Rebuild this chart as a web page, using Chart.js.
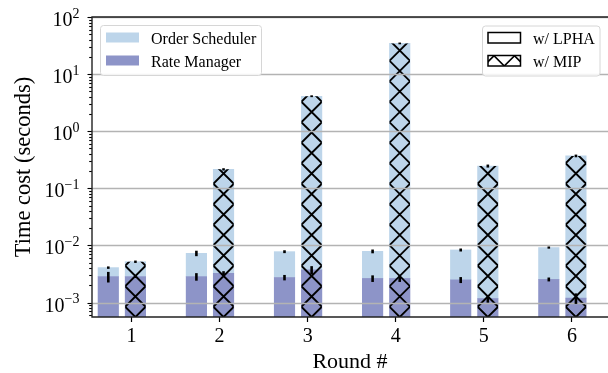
<!DOCTYPE html>
<html>
<head>
<meta charset="utf-8">
<script src="https://cdn.jsdelivr.net/npm/chart.js@4.4.1/dist/chart.umd.min.js"></script>
<style>
  html, body { margin: 0; padding: 0; background: #fff; overflow: hidden; width: 608px; height: 373px; }
  canvas { display: block; }
</style>
</head>
<body>
<canvas id="chart" width="608" height="373"></canvas>
<script>
// ---- data (seconds) ----
const rounds = [1, 2, 3, 4, 5, 6];

const rateMgrLpha    = [2.85e-3, 2.85e-3, 2.75e-3, 2.65e-3, 2.50e-3, 2.55e-3];
const orderSchedLpha = [1.25e-3, 4.45e-3, 5.05e-3, 5.25e-3, 5.85e-3, 6.65e-3];
const rateMgrMip     = [2.85e-3, 3.25e-3, 3.75e-3, 2.65e-3, 1.18e-3, 1.20e-3];
const orderSchedMip  = [2.35e-3, 0.212, 4.10, 34.5, 0.245, 0.369];

// standard deviations, drawn at the top of each segment
const rateMgrLphaErr = [0.6e-3, 0.43e-3, 0.3e-3, 0.35e-3, 0.3e-3, 0.2e-3];
const totalLphaErr   = [0.2e-3, 0.8e-3, 0.45e-3, 0.6e-3, 0.5e-3, 0.4e-3];
const rateMgrMipErr  = [0.15e-3, 0.3e-3, 0.6e-3, 0.35e-3, 0.18e-3, 0.25e-3];
const totalMipErr    = [0.25e-3, 0.01, 0.15, 1.2, 0.015, 0.02];

const yTickExponents = [-3, -2, -1, 0, 1, 2];
const componentNames = ['Order Scheduler', 'Rate Manager'];
const methodNames = ['w/ LPHA', 'w/ MIP'];

// ---- style / layout ----
const SERIF = '"Liberation Serif", "DejaVu Serif", serif';
const OS_COLOR = '#bdd5ea';
const RM_COLOR = '#8d94c8';
const GRID_COLOR = '#b3b3b3';
const Y_MIN = 5.6e-4, Y_MAX = 100;
const X_MIN = 0.552, X_MAX = 6.409;
const LPHA_SHIFT = -0.263, MIP_SHIFT = 0.045;
const BAR_PX = 20.5;
const HATCH_PERIOD = 20.5;

const sum = (a, b) => a.map((v, i) => v + b[i]);
const totalLpha = sum(rateMgrLpha, orderSchedLpha);
const totalMip = sum(rateMgrMip, orderSchedMip);

function segment(shift, lo, hi) {
  return rounds.map((r, i) => ({ x: r + shift, y: [lo ? lo[i] : Y_MIN, hi[i]] }));
}

const common = { grouped: false, barThickness: BAR_PX, borderWidth: 0 };
const datasets = [
  { ...common, label: componentNames[1], data: segment(LPHA_SHIFT, null, rateMgrLpha), backgroundColor: RM_COLOR, err: rateMgrLphaErr, top: rateMgrLpha },
  { ...common, label: componentNames[0], data: segment(LPHA_SHIFT, rateMgrLpha, totalLpha), backgroundColor: OS_COLOR, err: totalLphaErr, top: totalLpha },
  { ...common, label: componentNames[1], data: segment(MIP_SHIFT, null, rateMgrMip), backgroundColor: RM_COLOR, err: rateMgrMipErr, top: rateMgrMip },
  { ...common, label: componentNames[0], data: segment(MIP_SHIFT, rateMgrMip, totalMip), backgroundColor: OS_COLOR, err: totalMipErr, top: totalMip, hatched: true }
];

// diagonal cross hatch inside a rectangle, crossings on column cx and rows oy + k*p
function drawHatch(ctx, l, t, r, b, cx, oy, p, lw) {
  ctx.save();
  ctx.beginPath();
  ctx.rect(l, t, r - l, b - t);
  ctx.clip();
  ctx.beginPath();
  const w = (r - l) + p;
  const kMin = Math.floor((t - oy - w) / p) - 1;
  const kMax = Math.ceil((b - oy + w) / p) + 1;
  for (let k = kMin; k <= kMax; k++) {
    const yc = oy + k * p;
    ctx.moveTo(cx - w, yc - w); ctx.lineTo(cx + w, yc + w);
    ctx.moveTo(cx - w, yc + w); ctx.lineTo(cx + w, yc - w);
  }
  ctx.strokeStyle = '#000';
  ctx.lineWidth = lw;
  ctx.stroke();
  ctx.restore();
}

function roundRect(ctx, x, y, w, h, r) {
  ctx.beginPath();
  ctx.moveTo(x + r, y);
  ctx.lineTo(x + w - r, y); ctx.quadraticCurveTo(x + w, y, x + w, y + r);
  ctx.lineTo(x + w, y + h - r); ctx.quadraticCurveTo(x + w, y + h, x + w - r, y + h);
  ctx.lineTo(x + r, y + h); ctx.quadraticCurveTo(x, y + h, x, y + h - r);
  ctx.lineTo(x, y + r); ctx.quadraticCurveTo(x, y, x + r, y);
  ctx.closePath();
}

const overlay = {
  id: 'overlay',
  afterDatasetsDraw(chart) {
    const { ctx, chartArea: ca, scales: { y } } = chart;

    // hatch over the MIP stacks
    chart.data.datasets.forEach((ds, di) => {
      if (!ds.hatched) return;
      chart.getDatasetMeta(di).data.forEach(el => {
        const l = el.x - el.width / 2, r = el.x + el.width / 2;
        const t = Math.min(el.y, el.base);
        drawHatch(ctx, l, t, r, ca.bottom, el.x, ca.bottom, HATCH_PERIOD, 1.9);
      });
    });

    // horizontal grid at each decade
    ctx.save();
    ctx.strokeStyle = GRID_COLOR;
    ctx.lineWidth = 1.4;
    yTickExponents.forEach(e => {
      const py = Math.round(y.getPixelForValue(Math.pow(10, e))) + 0.5;
      ctx.beginPath(); ctx.moveTo(ca.left, py); ctx.lineTo(ca.right, py); ctx.stroke();
    });
    ctx.restore();

    // error bars
    ctx.save();
    ctx.strokeStyle = '#000';
    ctx.lineWidth = 2.6;
    ctx.lineCap = 'butt';
    chart.data.datasets.forEach((ds, di) => {
      chart.getDatasetMeta(di).data.forEach((el, i) => {
        const v = ds.top[i], e = ds.err[i];
        const y0 = y.getPixelForValue(v - e), y1 = y.getPixelForValue(v + e);
        ctx.beginPath(); ctx.moveTo(el.x, y0); ctx.lineTo(el.x, y1); ctx.stroke();
      });
    });
    ctx.restore();
  },
  afterDraw(chart) {
    const { ctx, chartArea: ca, scales: { y } } = chart;

    // y ticks (major + minor) and power-of-ten labels
    ctx.save();
    ctx.strokeStyle = '#000';
    ctx.lineWidth = 1.1;
    const eMin = Math.floor(Math.log10(Y_MIN)), eMax = Math.ceil(Math.log10(Y_MAX));
    for (let e = eMin; e <= eMax; e++) {
      for (let m = 1; m <= 9; m++) {
        const v = m * Math.pow(10, e);
        if (v < Y_MIN * 0.999 || v > Y_MAX * 1.001) continue;
        const py = Math.round(y.getPixelForValue(v)) + 0.5;
        const len = m === 1 ? 4.5 : 2.8;
        ctx.beginPath(); ctx.moveTo(ca.left - len, py); ctx.lineTo(ca.left, py); ctx.stroke();
      }
    }
    ctx.fillStyle = '#000';
    ctx.textAlign = 'right';
    ctx.textBaseline = 'alphabetic';
    yTickExponents.forEach(e => {
      const py = y.getPixelForValue(Math.pow(10, e));
      const sup = (e < 0 ? '\u2212' : '') + Math.abs(e);
      const right = ca.left - 12.5;
      ctx.font = `14px ${SERIF}`;
      const wSup = ctx.measureText(sup).width;
      ctx.fillText(sup, right, py + 0.5);
      ctx.font = `20px ${SERIF}`;
      ctx.fillText('10', right - wSup, py + 9);
    });
    ctx.restore();

    // axes frame: left, bottom and top spines (right side runs past the canvas)
    ctx.save();
    ctx.strokeStyle = '#222';
    ctx.lineWidth = 1.4;
    ctx.beginPath();
    ctx.moveTo(ca.right + 2, ca.top); ctx.lineTo(ca.left, ca.top);
    ctx.lineTo(ca.left, ca.bottom); ctx.lineTo(ca.right + 2, ca.bottom);
    ctx.stroke();
    ctx.restore();

    // component legend (upper left)
    ctx.save();
    roundRect(ctx, 100.5, 25.5, 161, 50, 3);
    ctx.fillStyle = 'rgba(255,255,255,0.85)';
    ctx.fill();
    ctx.strokeStyle = '#d6d6d6';
    ctx.lineWidth = 1;
    ctx.stroke();
    ctx.font = `16px ${SERIF}`;
    ctx.fillStyle = '#000';
    ctx.textAlign = 'left';
    ctx.textBaseline = 'alphabetic';
    [[OS_COLOR, componentNames[0], 32.5], [RM_COLOR, componentNames[1], 55.5]].forEach(([c, txt, py]) => {
      ctx.fillStyle = c;
      ctx.fillRect(106, py, 33, 10);
      ctx.fillStyle = '#000';
      ctx.fillText(txt, 151, py + 11.8);
    });
    ctx.restore();

    // method legend (upper right)
    ctx.save();
    roundRect(ctx, 482.5, 26, 117.5, 50, 3);
    ctx.fillStyle = 'rgba(255,255,255,0.85)';
    ctx.fill();
    ctx.strokeStyle = '#d6d6d6';
    ctx.lineWidth = 1;
    ctx.stroke();
    ctx.font = `16px ${SERIF}`;
    ctx.textAlign = 'left';
    ctx.textBaseline = 'alphabetic';
    const px = 488, pw = 32.5, ph = 10.5;
    ctx.strokeStyle = '#000';
    ctx.lineWidth = 1.5;
    ctx.strokeRect(px, 32.5, pw, ph);
    drawHatch(ctx, px, 55.5, px + pw, 55.5 + ph, px + pw / 2, 55.5 + ph, HATCH_PERIOD, 1.6);
    ctx.strokeStyle = '#000';
    ctx.lineWidth = 1.5;
    ctx.strokeRect(px, 55.5, pw, ph);
    ctx.fillStyle = '#000';
    ctx.fillText(methodNames[0], 533, 44.3);
    ctx.fillText(methodNames[1], 533, 67.3);
    ctx.restore();
  }
};

new Chart(document.getElementById('chart'), {
  type: 'bar',
  data: { datasets },
  plugins: [overlay],
  options: {
    responsive: false,
    animation: false,
    devicePixelRatio: 1,
    layout: { padding: { top: 17, right: 0, left: 0, bottom: 0 } },
    plugins: { legend: { display: false }, tooltip: { enabled: false } },
    scales: {
      x: {
        type: 'linear',
        offset: false,
        min: X_MIN,
        max: X_MAX,
        afterBuildTicks: s => { s.ticks = rounds.map(v => ({ value: v })); },
        afterFit: s => { s.height = 56; },
        grid: { offset: false, drawOnChartArea: false, drawTicks: true, tickLength: 5, tickColor: '#000', tickWidth: 1.2 },
        border: { display: false },
        ticks: { color: '#000', font: { family: SERIF, size: 20 }, padding: 3, callback: v => String(v) },
        title: { display: true, text: 'Round #', color: '#000', font: { family: SERIF, size: 22, lineHeight: 1.0 }, padding: { top: 0, bottom: 0 } }
      },
      y: {
        type: 'logarithmic',
        min: Y_MIN,
        max: Y_MAX,
        afterFit: s => { s.width = 92; },
        grid: { display: false },
        border: { display: false },
        ticks: { display: false },
        title: { display: true, text: 'Time cost (seconds)', color: '#000', font: { family: SERIF, size: 22.5 }, padding: { top: 10.5, bottom: 0 } }
      }
    }
  }
});
</script>
</body>
</html>
